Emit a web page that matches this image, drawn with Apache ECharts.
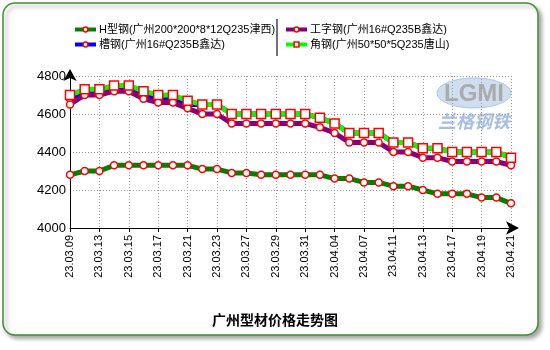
<!DOCTYPE html>
<html>
<head>
<meta charset="utf-8">
<script src="https://cdn.jsdelivr.net/npm/echarts@6/dist/echarts.min.js"></script>
<style>
  html, body { margin: 0; padding: 0; background: #ffffff; }
  #chart { width: 550px; height: 350px; }
</style>
</head>
<body>
<div id="chart"></div>
<script>
// Trading days (yy.mm.dd)
const dates = [
  '23.03.09','23.03.10','23.03.13','23.03.14','23.03.15','23.03.16','23.03.17',
  '23.03.20','23.03.21','23.03.22','23.03.23','23.03.24','23.03.27','23.03.28',
  '23.03.29','23.03.30','23.03.31','23.04.03','23.04.04','23.04.06','23.04.07',
  '23.04.10','23.04.11','23.04.12','23.04.13','23.04.14','23.04.17','23.04.18',
  '23.04.19','23.04.20','23.04.21'
];

const seriesNames = [
  'H型钢(广州200*200*8*12Q235津西)',
  '槽钢(广州16#Q235B鑫达)',
  '工字钢(广州16#Q235B鑫达)',
  '角钢(广州50*50*5Q235唐山)'
];

// Prices, yuan/ton
const hBeam = [4280,4300,4300,4330,4330,4330,4330,4330,4330,4310,4310,4290,4290,4280,4280,4280,
  4280,4280,4260,4260,4240,4240,4220,4220,4200,4180,4180,4180,4160,4160,4130];
const channel = [4680,4710,4710,4730,4730,4700,4680,4680,4650,4650,4650,4600,4600,4600,4600,4600,
  4600,4580,4550,4500,4500,4500,4450,4450,4420,4420,4400,4400,4400,4400,4370];
const iBeam = [4650,4700,4700,4720,4720,4680,4660,4660,4630,4600,4600,4550,4550,4550,4550,4550,
  4550,4530,4500,4450,4450,4450,4400,4400,4370,4370,4350,4350,4350,4350,4330];
const angle = [4700,4730,4730,4750,4750,4720,4700,4700,4670,4650,4650,4600,4600,4600,4600,4600,
  4600,4580,4550,4500,4500,4500,4450,4450,4420,4420,4400,4400,4400,4400,4370];

const yTicks = { min: 4000, max: 4800, interval: 200 };

const colors = ['#008000', '#0000ff', '#800080', '#00ff00'];
const symbols = ['circle', 'circle', 'circle', 'rect'];
const symbolSizes = [7, 7, 7, 9];
const values = [hBeam, channel, iBeam, angle];

const chart = echarts.init(document.getElementById('chart'), null, { renderer: 'canvas' });

const font = '"Liberation Sans", "Noto Sans CJK SC", sans-serif';

const series = seriesNames.map((name, i) => ({
  name: name,
  type: 'line',
  data: values[i],
  symbol: symbols[i],
  symbolSize: symbolSizes[i],
  showAllSymbol: true,
  lineStyle: { color: colors[i], width: 5 },
  itemStyle: { color: '#ffffff', borderColor: '#ff0000', borderWidth: 1.5 },
  emphasis: { disabled: true },
  z: 2 + i
}));

const legendBase = {
  orient: 'vertical',
  top: 18,
  itemWidth: 21,
  itemHeight: 6,
  itemGap: 2,
  itemStyle: { borderWidth: 1.5 },
  lineStyle: { width: 4 },
  textStyle: { fontFamily: font, fontSize: 11, lineHeight: 13, color: '#000000', padding: [0, 0, 0, -2] },
  selectedMode: false
};

chart.setOption({
  animation: false,
  backgroundColor: 'transparent',
  graphic: [
    {
      type: 'rect',
      shape: { x: 3, y: 3, width: 535, height: 332, r: 12 },
      style: {
        fill: '#ffffff', stroke: '#3f8f2f', lineWidth: 1.5,
        shadowBlur: 4, shadowOffsetX: 3, shadowOffsetY: 3, shadowColor: 'rgba(0,0,0,0.35)'
      },
      z: -10
    },
    {
      type: 'line',
      shape: { x1: 277, y1: 19, x2: 277, y2: 56 },
      style: { stroke: '#444444', lineWidth: 1.5 },
      z: 5
    },
    {
      type: 'ellipse',
      shape: { cx: 474, cy: 93, rx: 37, ry: 15 },
      style: { fill: 'rgba(150,180,220,0.45)', stroke: 'rgba(150,180,220,0.7)', lineWidth: 1 },
      z: 0
    },
    {
      type: 'text',
      style: {
        x: 474, y: 94, text: 'LGMI', align: 'center', verticalAlign: 'middle',
        font: 'bold 24px "Liberation Sans", sans-serif', fill: 'rgba(165,165,165,0.9)'
      },
      z: 0
    },
    {
      type: 'text',
      style: {
        x: 474, y: 121, text: '兰格钢铁', align: 'center', verticalAlign: 'middle',
        font: 'italic bold 18px "Noto Sans CJK SC", sans-serif', fill: 'rgba(150,180,220,0.85)'
      },
      z: 0
    }
  ],
  title: {
    text: '广州型材价格走势图',
    left: 'center',
    top: 308,
    textStyle: { fontFamily: '"Noto Sans CJK SC", sans-serif', fontSize: 14, fontWeight: 'bold', color: '#000000' }
  },
  legend: [
    Object.assign({}, legendBase, { left: 68, data: [seriesNames[0], seriesNames[1]] }),
    Object.assign({}, legendBase, { left: 279, data: [seriesNames[2], seriesNames[3]] })
  ],
  grid: { left: 70, right: 39, top: 76, bottom: 122, containLabel: false },
  xAxis: {
    type: 'category',
    data: dates,
    boundaryGap: false,
    axisLine: {
      lineStyle: { color: '#000000', width: 1 },
      symbol: ['none', 'arrow'],
      symbolSize: [10, 13],
      symbolOffset: [0, 8]
    },
    axisTick: { show: true, interval: 1, length: 4, inside: false, lineStyle: { color: '#000000' } },
    axisLabel: {
      interval: 1, rotate: 90, margin: 7,
      fontFamily: '"Liberation Sans", sans-serif', fontSize: 11, color: '#000000'
    },
    splitLine: { show: true, interval: 1, lineStyle: { color: '#999999', type: [1, 2], width: 1 } }
  },
  yAxis: {
    type: 'value',
    min: yTicks.min,
    max: yTicks.max,
    interval: yTicks.interval,
    axisLine: {
      show: true,
      lineStyle: { color: '#000000', width: 1 },
      symbol: ['none', 'arrow'],
      symbolSize: [10, 12],
      symbolOffset: [0, 7]
    },
    axisTick: { show: false },
    axisLabel: {
      margin: 4, fontFamily: '"Liberation Sans", sans-serif', fontSize: 13, color: '#000000',
      formatter: (v) => String(v)
    },
    splitLine: { show: true, lineStyle: { color: '#999999', type: [1, 2], width: 1 } }
  },
  series: series
});
</script>
</body>
</html>
